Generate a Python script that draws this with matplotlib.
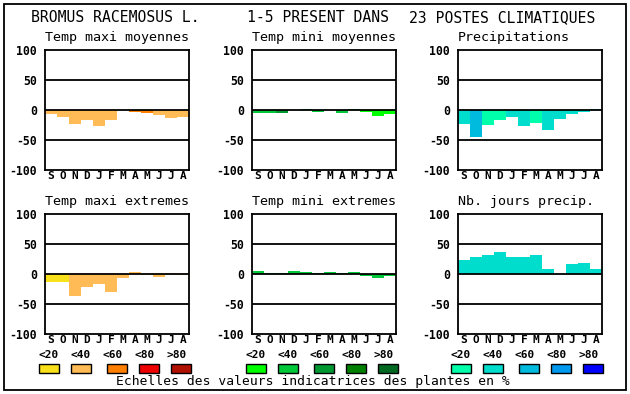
import matplotlib
matplotlib.use('Agg')
import matplotlib.pyplot as plt
from matplotlib.patches import Rectangle

plt.rcParams['font.family'] = 'DejaVu Sans Mono'

#%% data
months = ['S', 'O', 'N', 'D', 'J', 'F', 'M', 'A', 'M', 'J', 'J', 'A']
yticks = [100, 50, 0, -50, -100]
scale_labels = ['<20', '<40', '<60', '<80', '>80']

titles = ['Temp maxi moyennes', 'Temp mini moyennes', 'Precipitations',
          'Temp maxi extremes', 'Temp mini extremes', 'Nb. jours precip.']

tmax_moy = [-6, -11, -23, -16, -26, -16, 0, -3, -5, -9, -14, -11]
tmax_moy_cls = [1, 1, 1, 1, 1, 1, 1, 2, 2, 1, 1, 1]
tmin_moy = [-5, -5, -5, 0, 2, -4, 0, -5, 2, -4, -10, -7]
tmin_moy_cls = [1, 1, 2, 1, 1, 1, 1, 1, 1, 0, 0, 0]
precip = [-24, -45, -25, -17, -12, -27, -22, -34, -15, -6, -4, 2]
precip_cls = [1, 2, 0, 0, 1, 1, 0, 1, 1, 1, 1, 1]
tmax_ext = [-14, -14, -37, -22, -17, -30, -7, 4, -2, -5, 2, -2]
tmax_ext_cls = [0, 0, 1, 1, 1, 1, 1, 1, 1, 1, 1, 1]
tmin_ext = [5, 2, 2, 5, 4, 2, 4, 2, 4, -4, -7, -4]
tmin_ext_cls = [1] * 12
nb_jours = [24, 28, 31, 37, 28, 28, 31, 8, 0, 16, 18, 8]
nb_jours_cls = [1] * 12

orange = ['#F8E01A', '#FFBB55', '#FF8000', '#EE0000', '#B01000']
green = ['#00FF00', '#00C838', '#009830', '#008000', '#006820']
blue = ['#00FFAA', '#00DDCC', '#00BBDD', '#0099EE', '#0000FF']

series = [(tmax_moy, tmax_moy_cls, orange), (tmin_moy, tmin_moy_cls, green),
          (precip, precip_cls, blue), (tmax_ext, tmax_ext_cls, orange),
          (tmin_ext, tmin_ext_cls, green), (nb_jours, nb_jours_cls, blue)]

#%% layout (pixels)
W, H = 630, 394
fig = plt.figure(figsize=(W / 100, H / 100), dpi=100)

def fx(x):
    return x / W

def fy(y):
    return 1 - y / H

# outer frame
fig.patches.append(Rectangle((fx(4), fy(390)), fx(622), (386) / H, transform=fig.transFigure,
                             fill=False, edgecolor='black', linewidth=1.3))

fig.text(fx(31), fy(18), 'BROMUS RACEMOSUS L.', fontsize=10.6, va='center', ha='left')
fig.text(fx(247), fy(18), '1-5 PRESENT DANS', fontsize=10.6, va='center', ha='left')
fig.text(fx(409), fy(18), '23 POSTES CLIMATIQUES', fontsize=10.6, va='center', ha='left')

col_x = [45, 252, 458]
row_y = [50, 214]
ax_w, ax_h = 144, 120

for k in range(6):
    vals, cls, pal = series[k]
    x0 = col_x[k % 3]
    y0 = row_y[k // 3]
    ax = fig.add_axes([fx(x0), fy(y0 + ax_h), ax_w / W, ax_h / H])
    ax.bar([i + 0.5 for i in range(12)], vals, width=1.0,
           color=[pal[c] for c in cls], linewidth=0)
    for v in [50, 0, -50]:
        ax.axhline(v, color='black', linewidth=1.3, zorder=3)
    ax.set_xlim(0, 12)
    ax.set_ylim(-100, 100)
    ax.set_yticks(yticks)
    ax.set_yticklabels([str(t) for t in yticks], fontsize=8.3, fontweight='bold')
    ax.set_xticks([i + 0.5 for i in range(12)])
    ax.set_xticklabels(months, fontsize=8, fontweight='bold')
    ax.tick_params(length=0)
    ax.tick_params(axis='x', pad=1)
    ax.tick_params(axis='y', pad=6)
    for s in ax.spines.values():
        s.set_linewidth(1.3)
    fig.text(fx(x0), fy(y0 - 12), titles[k], fontsize=9.6, va='center', ha='left')

# colour scales
leg_x = [39, 246, 451]
pals = [orange, green, blue]
box_off = [0, 32, 68, 100, 132]
for j in range(3):
    for i in range(5):
        fig.text(fx(leg_x[j] + 32 * i + 10), fy(355.5), scale_labels[i], fontsize=8,
                 fontweight='bold', ha='center', va='center')
        fig.patches.append(Rectangle((fx(leg_x[j] + box_off[i]), fy(373)), 20 / W, 9 / H,
                                     transform=fig.transFigure, facecolor=pals[j][i],
                                     edgecolor='black', linewidth=1.0))

fig.text(fx(116), fy(382), 'Echelles des valeurs indicatrices des plantes en %',
         fontsize=9.4, va='center', ha='left')

fig.savefig('out.png', dpi=100)
